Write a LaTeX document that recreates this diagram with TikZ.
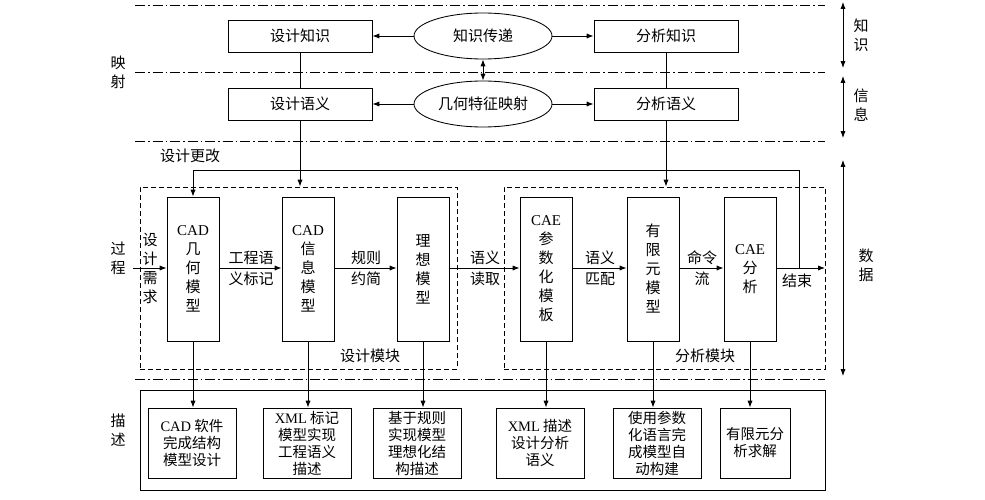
\documentclass[tikz,border=0pt]{standalone}
\usepackage{fontspec}
\setmainfont{Noto Sans CJK SC}
\newfontfamily\lat{Liberation Serif}
\usetikzlibrary{arrows.meta, shapes.geometric}

\begin{document}
\begin{tikzpicture}[%
        x = 1pt,
        y = -1pt,
        > = Latex,
        line width = 0.3mm,
        font = \fontsize{15}{18}\selectfont,
        box/.style = {draw, minimum width = 144, minimum height = 32, inner sep = 0pt},
        ell/.style = {draw, ellipse, minimum width = 138, minimum height = 46, inner sep = 0pt},
        col/.style = {draw, minimum width = 52, minimum height = 144, inner sep = 0pt,
                      align = center, font = \fontsize{15}{19}\selectfont},
        desc/.style = {draw, minimum width = 88, minimum height = 70, inner sep = 0pt,
                       align = center, font = \fontsize{14.5}{17}\selectfont},
        mod/.style = {draw, dash pattern = on 5pt off 3pt, inner sep = 0pt},
        layer/.style = {dash pattern = on 10pt off 3pt on 1.5pt off 3pt},
        lbl/.style = {align = center, font = \fontsize{15}{21}\selectfont},
        side/.style = {align = center, font = \fontsize{15}{19}\selectfont}
    ]
        \useasboundingbox (0, 0) rectangle (985, 500);

        % Layer separators:
        \foreach \y in {5, 72, 141, 379}{%
            \draw[layer] (135, \y) to (825, \y);
        }

        % Knowledge and information layers.
        \node[box] (dk) at (300, 36)  {设计知识};
        \node[box] (ak) at (666, 36)  {分析知识};
        \node[box] (ds) at (300, 104) {设计语义};
        \node[box] (as) at (666, 104) {分析语义};
        \node[ell] (kt) at (483, 36)  {知识传递};
        \node[ell] (gm) at (483, 104) {几何特征映射};

        \draw[->] (kt) to (dk);
        \draw[->] (kt) to (ak);
        \draw[->] (gm) to (ds);
        \draw[->] (gm) to (as);
        \draw[<->] (kt) to (gm);
        \draw (dk) to (ds);
        \draw (ak) to (as);

        % Modules:
        \node[mod, minimum width = 317, minimum height = 182] (dmod) at (298.5, 278) {};
        \node[mod, minimum width = 321, minimum height = 182] (amod) at (664.5, 278) {};
        \node at (370, 356) {设计模块};
        \node at (705, 356) {分析模块};

        \node[col] (geo)   at (193, 269) {{\lat CAD}\\几\\何\\模\\型};
        \node[col] (info)  at (308, 269) {{\lat CAD}\\信\\息\\模\\型};
        \node[col] (ideal) at (423, 269) {理\\想\\模\\型};
        \node[col] (tmpl)  at (546, 269) {{\lat CAE}\\参\\数\\化\\模\\板};
        \node[col] (fem)   at (653, 269) {有\\限\\元\\模\\型};
        \node[col] (cae)   at (750, 269) {{\lat CAE}\\分\\析};

        \coordinate (in)  at (133, 268);
        \coordinate (out) at (825, 268);
        \coordinate (fb)  at (799, 268);

        % Process chain.
        \draw[->] (in) to (in -| geo.west);
        \draw[->] (geo.east |- in) to (info.west |- in);
        \draw[->] (info.east |- in) to (ideal.west |- in);
        \draw[->] (ideal.east |- in) to (tmpl.west |- in);
        \draw[->] (tmpl.east |- in) to (fem.west |- in);
        \draw[->] (fem.east |- in) to (cae.west |- in);
        \draw[->] (cae.east |- in) to (out);

        \node[side] at (150, 268) {设\\计\\需\\求};
        \node[lbl] at (251, 268) {工程语\\义标记};
        \node[lbl] at (366, 268) {规则\\约简};
        \node[lbl] at (485, 268) {语义\\读取};
        \node[lbl] at (600, 268) {语义\\匹配};
        \node[lbl] at (702, 268) {命令\\流};
        \node at (797, 281) {结束};

        % Design change feedback.
        \draw[->] (fb) to (fb |- 0, 170) -| (geo.north);
        \draw[->] (ds) to (ds |- dmod.north);
        \draw[->] (as) to (as |- amod.north);
        \node at (190, 156) {设计更改};

        % Description layer.
        \draw (140, 390) rectangle (825, 490);
        \node[desc] (d1) at (192, 443) {{\lat CAD} 软件\\完成结构\\模型设计};
        \node[desc] (d2) at (307, 443) {{\lat XML} 标记\\模型实现\\工程语义\\描述};
        \node[desc] (d3) at (417, 443) {基于规则\\实现模型\\理想化结\\构描述};
        \node[desc] (d4) at (540, 443) {{\lat XML} 描述\\设计分析\\语义};
        \node[desc] (d5) at (657, 443) {使用参数\\化语言完\\成模型自\\动构建};
        \node[desc, minimum width = 70] (d6) at (755, 443) {有限元分\\析求解};

        \foreach \a/\b in {geo/d1, info/d2, ideal/d3, tmpl/d4, fem/d5, cae/d6}{%
            \draw[->] (\a.south) to (\a.south |- \b.north);
        }

        % Side labels.
        \node[side] at (118, 72)  {映\\射};
        \node[side] at (118, 258) {过\\程};
        \node[side] at (118, 430) {描\\述};
        \node[side] at (861, 35)  {知\\识};
        \node[side] at (861, 105) {信\\息};
        \node[side] at (866, 265) {数\\据};
        \draw[<->] (843, 2) to (843, 68);
        \draw[<->] (843, 76) to (843, 138);
        \draw[<->] (843, 160) to (843, 376);
    \end{tikzpicture}
\end{document}
